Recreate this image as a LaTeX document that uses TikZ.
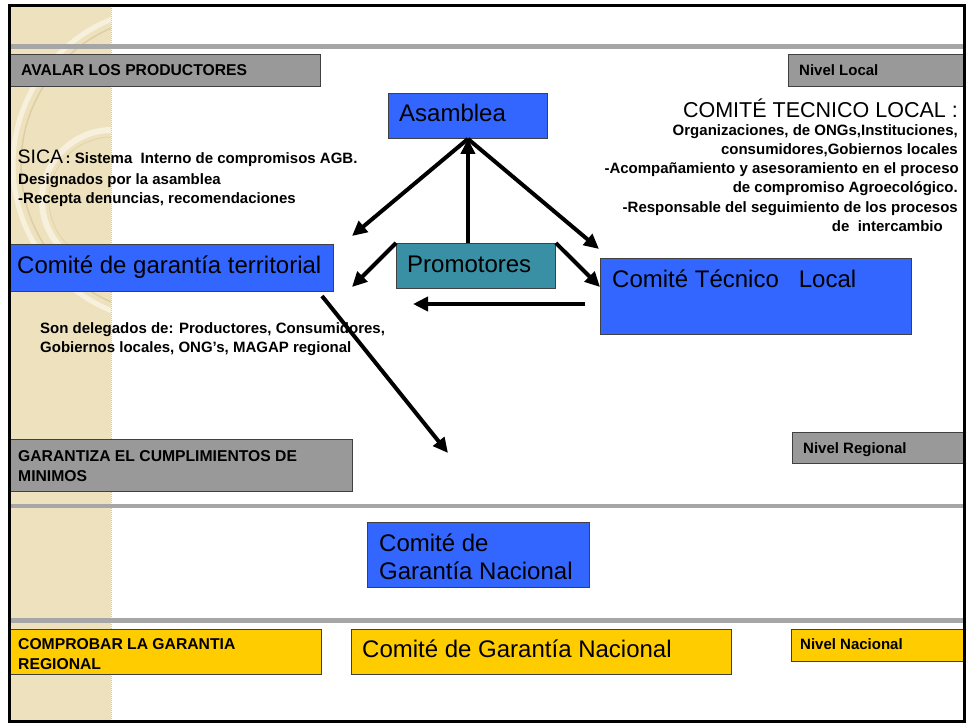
\documentclass[tikz,border=0pt]{standalone}
\usepackage{fontspec}
\setmainfont{Liberation Sans}
\usetikzlibrary{arrows.meta}
\definecolor{cblue}{RGB}{51,102,255}
\definecolor{cgray}{RGB}{153,153,153}
\definecolor{cteal}{RGB}{57,143,163}
\definecolor{cyell}{RGB}{255,204,0}
\definecolor{cbeige}{RGB}{238,226,190}
\definecolor{cbeigel}{RGB}{247,240,221}
\definecolor{cbeiged}{RGB}{214,198,155}
\definecolor{crule}{RGB}{166,166,166}
\begin{document}
\begin{tikzpicture}[x=1pt,y=-1pt,
  bx/.style={draw=black!75, line width=0.9pt, anchor=north west, inner sep=0pt},
  bl/.style={font=\fontsize{15}{19}\selectfont\bfseries, anchor=base west, inner sep=0pt},
  bu/.style={font=\fontsize{15.7}{19}\selectfont\bfseries, anchor=base west, inner sep=0pt},
  blr/.style={font=\fontsize{15}{19}\selectfont\bfseries, anchor=base east, inner sep=0pt},
  big/.style={font=\fontsize{24}{28}\selectfont, anchor=base west, inner sep=0pt},
  arr/.style={line width=4pt, -{Triangle[length=15pt,width=14pt]}}]
\useasboundingbox (0,0) rectangle (969,723);
\fill[white] (0,0) rectangle (969,723);
% decorative strip
\fill[cbeige] (10,6) rectangle (111,720);
\begin{scope}
  \clip (10,6) rectangle (111,720);
  \draw[cbeigel, line width=5pt] (170,165) circle[radius=157pt];
  \draw[cbeiged!70!cbeige, line width=1.5pt] (170,165) circle[radius=149pt];
  \draw[cbeigel, line width=6pt] (112,200) circle[radius=70pt];
  \draw[cbeiged!50!cbeige, line width=1pt] (112,200) circle[radius=63pt];
\end{scope}
\draw[cbeiged, line width=1pt, densely dotted] (111,6) -- (111,720);
% rules
\fill[crule] (10,43.5) rectangle (963,48.5);
\fill[crule] (10,503.5) rectangle (963,507.5);
\fill[crule] (10,618) rectangle (963,622.5);
% boxes
\node[bx, fill=cgray, minimum width=310pt, minimum height=32pt] (avalar) at (10,54) {};
\node[bx, fill=cgray, minimum width=175pt, minimum height=32pt] (nloc) at (788,54) {};
\node[bx, fill=cblue, minimum width=159pt, minimum height=45pt] (asm) at (388,93) {};
\node[bx, fill=cblue, minimum width=325pt, minimum height=47pt] (terr) at (8,244) {};
\node[bx, fill=cteal, minimum width=159pt, minimum height=45pt] (prom) at (396,243) {};
\node[bx, fill=cblue, minimum width=311pt, minimum height=76pt] (ctl) at (600,258) {};
\node[bx, fill=cgray, minimum width=171pt, minimum height=31pt] (nreg) at (792,432) {};
\node[bx, fill=cgray, minimum width=344pt, minimum height=52pt] (garant) at (8,439) {};
\node[bx, fill=cblue, minimum width=222pt, minimum height=65pt] (cgn) at (367,522) {};
\node[bx, fill=cyell, minimum width=311pt, minimum height=45pt] (comp) at (10,629) {};
\node[bx, fill=cyell, minimum width=380pt, minimum height=45pt] (cgny) at (351,629) {};
\node[bx, fill=cyell, minimum width=172pt, minimum height=32pt] (nnac) at (791,629) {};
% texts
\node[bu] (avalarT) at (21,75.5) {AVALAR LOS PRODUCTORES};
\node[bl] (nlocT) at (799,75.5) {Nivel Local};
\node[big] (asmT) at (399,121) {Asamblea};
\node[anchor=base west, inner sep=0pt] (sicaT) at (17.5,163) {\fontsize{19.5}{22}\selectfont SICA\fontsize{15}{19}\selectfont\bfseries\,: Sistema\ \ Interno de compromisos AGB.};
\node[bl] (desT) at (18,184) {Designados por la asamblea};
\node[bl] (recT) at (18,203) {-Recepta denuncias, recomendaciones};
\node[anchor=base east, inner sep=0pt, font=\fontsize{21.5}{26}\selectfont] (ctlTitle) at (958,117) {COMITÉ TECNICO LOCAL :};
\node[blr] (r1) at (958,135) {Organizaciones, de ONGs,Instituciones,};
\node[blr] (r2) at (958,154) {consumidores,Gobiernos locales};
\node[blr] (r3) at (959,173) {-Acompañamiento y asesoramiento en el proceso};
\node[blr] (r4) at (958,192.5) {de compromiso Agroecológico.};
\node[blr] (r5) at (958,212) {-Responsable del seguimiento de los procesos};
\node[blr] (r6) at (943,231) {de\ \ intercambio};
\node[big] (terrT) at (17,273) {Comité de garantía territorial};
\node[big] (promT) at (407,272) {Promotores};
\node[big] (ctlT) at (612,287) {Comité Técnico\ \ \ Local};
\node[bl] (delT1) at (40,333) {Son delegados de: Productores, Consumidores,};
\node[bl] (delT2) at (40,352) {Gobiernos locales, ONG’s, MAGAP regional};
\node[bu] (garT1) at (18,461) {GARANTIZA EL CUMPLIMIENTOS DE};
\node[bu] (garT2) at (18,481) {MINIMOS};
\node[bl] (nregT) at (803,453) {Nivel Regional};
\node[big] (cgnT1) at (379,551) {Comité de};
\node[big] (cgnT2) at (379,579) {Garantía Nacional};
\node[bu] (compT1) at (18,649) {COMPROBAR LA GARANTIA};
\node[bu] (compT2) at (18,669) {REGIONAL};
\node[big] (cgnyT) at (362,657) {Comité de Garantía Nacional};
\node[bl] (nnacT) at (800,649) {Nivel Nacional};
% arrows
\coordinate (tA) at (352,236);
\coordinate (tB) at (599,249);
\coordinate (tC) at (352,287);
\coordinate (tD) at (600,287);
\coordinate (hS) at (585,304);
\coordinate (hE) at (413,304);
\coordinate (dS) at (322,296);
\coordinate (dE) at (448,453);
\draw[arr] (asm.south) -- (tA);
\draw[arr] (prom.north -| asm.south) -- (asm.south);
\draw[arr] (asm.south) -- (tB);
\draw[arr] (prom.north west) -- (tC);
\draw[arr] (prom.north east) -- (tD);
\draw[arr] (hS) -- (hE);
\draw[arr] (dS) -- (dE);
% frame
\draw[black, line width=3pt] (9,5.5) rectangle (964.5,721);
\end{tikzpicture}
\end{document}
